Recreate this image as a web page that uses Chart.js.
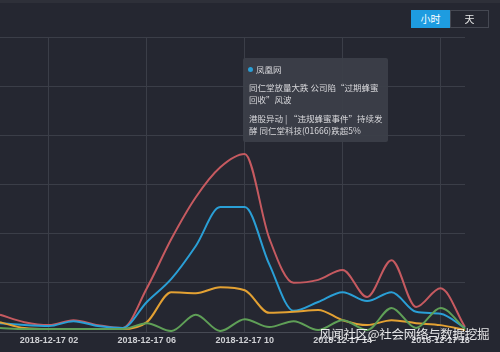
<!DOCTYPE html>
<html>
<head>
<meta charset="utf-8">
<script src="https://cdn.jsdelivr.net/npm/chart.js@4"></script>
<style>
  html, body { margin:0; padding:0; background:#252731; }
  #wrap { position:relative; width:500px; height:352px; overflow:hidden; background:#252731; }
  #topbar { position:absolute; left:0; top:0; width:500px; height:3px; background:#2e3039; }
  canvas { position:absolute; left:-3px; top:0; }
  .btn { position:absolute; top:10px; height:18px; line-height:18px; text-align:center; font-family:"Noto Sans CJK SC", sans-serif; font-size:10px; color:#fff; box-sizing:border-box; }
  #b1 { left:411px; width:39px; background:#1e9ce0; }
  #b2 { left:450px; width:39px; border:1px solid #454852; line-height:16px; color:#e8e8e8; }
  #tip { position:absolute; left:243px; top:58px; width:145px; height:84px; background:rgba(60,63,73,0.92); border-radius:2px; font-family:"Noto Sans CJK SC", sans-serif; font-size:8.5px; color:#d8d8dc; }
  #tip div { position:absolute; left:6px; white-space:nowrap; line-height:11px; }
  #dot { position:absolute; left:5px; top:9px; width:5px; height:5px; border-radius:50%; background:#2a9fd6; }
  #wm { position:absolute; left:319px; top:324px; font-family:"Noto Sans CJK SC", sans-serif; font-size:12.5px; color:rgba(255,255,255,0.88); white-space:nowrap; letter-spacing:-0.3px; }
</style>
</head>
<body>
<div id="wrap">
  <div id="topbar"></div>
  <canvas id="c" width="503" height="352"></canvas>
  <div class="btn" id="b1">小时</div>
  <div class="btn" id="b2">天</div>
  <div id="tip">
    <span id="dot"></span>
    <div style="top:6px;left:13px;">凤凰网</div>
    <div style="top:24px;">同仁堂放量大跌 公司陷“过期蜂蜜</div>
    <div style="top:36px;">回收”风波</div>
    <div style="top:55px;">港股异动 | “违规蜂蜜事件”持续发</div>
    <div style="top:67px;">酵 同仁堂科技(01666)跌超5%</div>
  </div>
  <div id="wm">风闻社区@社会网络与数据挖掘</div>
</div>
<script>
const hours = ['2018-12-17 00','2018-12-17 01','2018-12-17 02','2018-12-17 03','2018-12-17 04',
  '2018-12-17 05','2018-12-17 06','2018-12-17 07','2018-12-17 08','2018-12-17 09',
  '2018-12-17 10','2018-12-17 11','2018-12-17 12','2018-12-17 13','2018-12-17 14',
  '2018-12-17 15','2018-12-17 16','2018-12-17 17','2018-12-17 18','2018-12-17 19'];
const shownTicks = ['2018-12-17 02','2018-12-17 06','2018-12-17 10','2018-12-17 14','2018-12-17 18'];

const redSeries    = [3.5,2.0,1.4,2.4,1.4,0.8,8.9,18.9,27.4,33.5,36.2,19.1,10.0,10.6,12.6,7.1,14.6,5.1,8.9,1.0];
const blueSeries   = [1.8,1.4,1.2,2.2,1.2,0.8,6.1,10.8,17.5,25.4,25.4,13.8,4.3,6.1,8.1,6.3,8.1,4.1,3.7,0.8];
const orangeSeries = [2.0,0.8,0.6,0.6,0.6,0.6,2.0,8.1,7.9,9.1,8.5,3.9,4.1,4.5,2.4,1.4,2.4,1.8,1.4,0.4];
const greenSeries  = [0.8,0.6,0.6,0.6,0.6,0.6,1.8,0.2,3.5,0.2,2.6,1.0,2.2,0.4,2.4,0.4,4.9,0.8,4.9,0.6];

const yMax = 60;
const yStep = 10;

function ds(label, data, color) {
  return { label, data, borderColor: color, backgroundColor: color, borderWidth: 2,
    pointRadius: 0, cubicInterpolationMode: 'monotone', fill: false };
}
const isShown = (c) => c.index !== undefined && shownTicks.includes(hours[c.index]);

new Chart(document.getElementById('c'), {
  type: 'line',
  data: {
    labels: hours,
    datasets: [
      ds('green', greenSeries, '#5f9f57'),
      ds('orange', orangeSeries, '#e3a133'),
      ds('blue', blueSeries, '#2a9fd6'),
      ds('red', redSeries, '#c65a60')
    ]
  },
  options: {
    responsive: false,
    animation: false,
    layout: { padding: { left: 0, right: 35, top: 37, bottom: 3.2 } },
    plugins: { legend: { display: false }, tooltip: { enabled: false } },
    scales: {
      x: {
        offset: false,
        grid: {
          drawTicks: false,
          color: (c) => isShown(c) ? '#3b3e48' : 'rgba(0,0,0,0)',
          lineWidth: (c) => isShown(c) ? 1 : 0
        },
        border: { display: true, color: '#474a54' },
        ticks: {
          autoSkip: false, maxRotation: 0, padding: 3,
          color: '#cfd0d4',
          font: { family: 'Liberation Sans', size: 9, weight: 'bold' },
          callback: function(v, i) { const l = hours[i]; return shownTicks.includes(l) ? l : ''; }
        }
      },
      y: {
        min: 0, max: yMax,
        afterFit: (s) => { s.width = 0; },
        grid: { drawTicks: false, color: '#3b3e48' },
        border: { display: false },
        ticks: { display: false, stepSize: yStep }
      }
    }
  }
});
</script>
</body>
</html>
